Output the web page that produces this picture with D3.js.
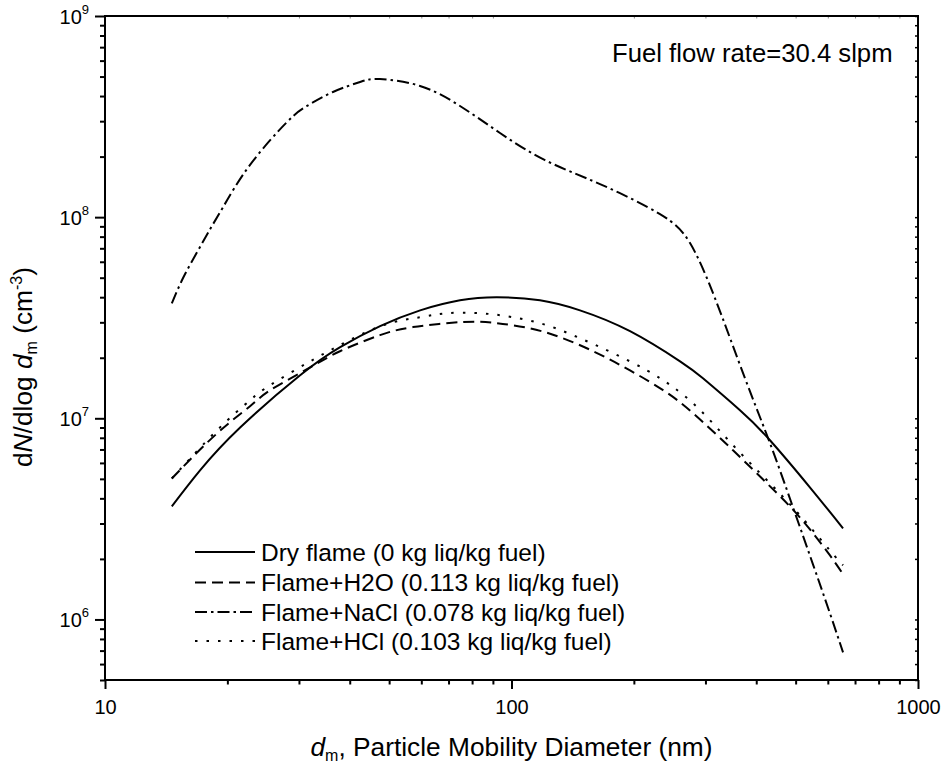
<!DOCTYPE html>
<html>
<head>
<meta charset="utf-8">
<script src="https://cdn.jsdelivr.net/npm/d3@7"></script>
<style>
  body { margin: 0; background: #fff; }
  text { font-family: "Liberation Sans", Arial, Helvetica, sans-serif; fill: #000; }
</style>
</head>
<body>
<svg id="chart" width="945" height="769"></svg>
<script>
// Particle size distributions, dN/dlog dm (cm^-3) vs mobility diameter (nm)
const dryDiam  = [14.6, 17.13, 21.5, 30.2, 37.8, 47.5, 59.6, 74.7, 92.1, 117.5, 147.4, 195.7, 259.8, 295.8, 364.8, 432.3, 542, 654];
const dryConc  = [3.65e6, 5.51e6, 9.0e6, 1.636e7, 2.25e7, 2.87e7, 3.44e7, 3.86e7, 4.00e7, 3.86e7, 3.44e7, 2.71e7, 1.92e7, 1.58e7, 1.096e7, 7.78e6, 4.54e6, 2.84e6];

const h2oDiam  = [14.6, 18.86, 22.74, 25.46, 31.4, 37.85, 47.48, 57.23, 75.98, 92.1, 111.1, 133.9, 162.3, 195.7, 236.0, 279.6, 350.7, 425.1, 512.6, 607.5, 654];
const h2oConc  = [5.02e6, 8.41e6, 1.148e7, 1.377e7, 1.754e7, 2.155e7, 2.59e7, 2.84e7, 3.01e7, 2.97e7, 2.80e7, 2.50e7, 2.11e7, 1.73e7, 1.38e7, 1.06e7, 6.93e6, 4.75e6, 3.21e6, 2.08e6, 1.675e6];

const naclDiam = [14.6, 15.56, 16.84, 18.13, 19.51, 22.74, 28.04, 31.4, 36.38, 42.41, 47.48, 59.55, 74.7, 93.69, 120.9, 165.1, 231.9, 274.9, 316.7, 375.3, 432.4, 492.6, 551.6, 607.5, 654];
const naclConc = [3.73e7, 4.98e7, 6.69e7, 8.71e7, 1.12e8, 1.82e8, 2.97e8, 3.57e8, 4.19e8, 4.70e8, 4.86e8, 4.49e8, 3.57e8, 2.62e8, 1.92e8, 1.46e8, 1.035e8, 7.43e7, 3.95e7, 1.58e7, 7.52e6, 3.61e6, 1.88e6, 1.07e6, 6.86e5];

const hclDiam  = [14.6, 18.86, 22.74, 25.46, 31.4, 37.85, 48.3, 59.55, 69.4, 83.66, 100.9, 122.3, 147.4, 177.7, 215.4, 249.7, 290.9, 350.7, 425.1, 512.6, 607.5, 654];
const hclConc  = [5.02e6, 8.71e6, 1.23e7, 1.46e7, 1.88e7, 2.31e7, 2.90e7, 3.18e7, 3.33e7, 3.33e7, 3.18e7, 2.90e7, 2.50e7, 2.11e7, 1.73e7, 1.43e7, 1.10e7, 7.35e6, 4.92e6, 3.29e6, 2.20e6, 1.86e6];

const seriesNames = [
  "Dry flame (0 kg liq/kg fuel)",
  "Flame+H2O (0.113 kg liq/kg fuel)",
  "Flame+NaCl (0.078 kg liq/kg fuel)",
  "Flame+HCl (0.103 kg liq/kg fuel)"
];
const seriesDash = [null, "11,6", "12,4,2.5,4", "2.5,9"];

const xMajor = [10, 100, 1000];
const xMinor = [20, 30, 40, 50, 60, 70, 80, 90, 200, 300, 400, 500, 600, 700, 800, 900];
const yMajorExp = [6, 7, 8, 9];
const yMinor = [5e5, 6e5, 7e5, 8e5, 9e5,
  2e6, 3e6, 4e6, 5e6, 6e6, 7e6, 8e6, 9e6,
  2e7, 3e7, 4e7, 5e7, 6e7, 7e7, 8e7, 9e7,
  2e8, 3e8, 4e8, 5e8, 6e8, 7e8, 8e8, 9e8];

const annotation = "Fuel flow rate=30.4 slpm";

const svg = d3.select("#chart");
const plot = { left: 105, right: 918, top: 16, bottom: 680 };

const x = d3.scaleLog().domain([10, 1000]).range([plot.left, plot.right]);
const y = d3.scaleLog().domain([5e5, 1e9]).range([plot.bottom, plot.top]);

const series = [
  d3.zip(dryDiam, dryConc),
  d3.zip(h2oDiam, h2oConc),
  d3.zip(naclDiam, naclConc),
  d3.zip(hclDiam, hclConc)
];

// Axes: outward ticks bottom/left, short inward ticks top/right
function styleAxis(g, width) {
  g.select(".domain").remove();
  g.selectAll(".tick line").attr("stroke", "#000").attr("stroke-width", width);
}

svg.append("g").attr("transform", `translate(0,${plot.bottom})`)
  .call(d3.axisBottom(x).tickValues(xMinor).tickSize(4.5).tickFormat(""))
  .call(g => styleAxis(g, 2));
svg.append("g").attr("transform", `translate(0,${plot.bottom})`)
  .call(d3.axisBottom(x).tickValues(xMajor).tickSize(9).tickPadding(11).tickFormat(d3.format("d")))
  .call(g => styleAxis(g, 2))
  .call(g => g.selectAll("text").attr("font-size", 20).attr("font-family", null));

svg.append("g").attr("transform", `translate(0,${plot.top})`)
  .call(d3.axisBottom(x).tickValues(xMinor).tickSize(2.5).tickFormat(""))
  .call(g => styleAxis(g, 1))
  .call(g => g.selectAll(".tick line").attr("stroke", "#888"));

svg.append("g").attr("transform", `translate(${plot.left},0)`)
  .call(d3.axisLeft(y).tickValues(yMinor).tickSize(5).tickFormat(""))
  .call(g => styleAxis(g, 2));
svg.append("g").attr("transform", `translate(${plot.left},0)`)
  .call(d3.axisLeft(y).tickValues(yMajorExp.map(e => Math.pow(10, e))).tickSize(10).tickFormat(""))
  .call(g => styleAxis(g, 2));

svg.append("g").attr("transform", `translate(${plot.right},0)`)
  .call(d3.axisLeft(y).tickValues(yMinor.concat(yMajorExp.map(e => Math.pow(10, e)))).tickSize(3).tickFormat(""))
  .call(g => styleAxis(g, 1.5));

// y tick labels as powers of ten
const yLab = svg.append("g");
yMajorExp.forEach(e => {
  const t = yLab.append("text")
    .attr("x", 89).attr("y", y(Math.pow(10, e)) + 7.5)
    .attr("text-anchor", "end").attr("font-size", 20);
  t.append("tspan").text("10");
  t.append("tspan").attr("font-size", 13).attr("dy", -10).text(String(e));
});

// frame
svg.append("rect")
  .attr("x", plot.left).attr("y", plot.top)
  .attr("width", plot.right - plot.left).attr("height", plot.bottom - plot.top)
  .attr("fill", "none").attr("stroke", "#000").attr("stroke-width", 2);

// curves
const line = d3.line()
  .x(d => x(d[0])).y(d => y(d[1]))
  .curve(d3.curveNatural);

svg.append("g").selectAll("path").data(series).join("path")
  .attr("d", line)
  .attr("fill", "none")
  .attr("stroke", "#000")
  .attr("stroke-width", 2)
  .attr("stroke-dasharray", (d, i) => seriesDash[i]);

// legend
const legend = svg.append("g");
const legendY = [552, 582.5, 612, 641];
seriesNames.forEach((name, i) => {
  legend.append("line")
    .attr("x1", 195).attr("x2", 255)
    .attr("y1", legendY[i]).attr("y2", legendY[i])
    .attr("stroke", "#000").attr("stroke-width", 2)
    .attr("stroke-dasharray", seriesDash[i]);
  legend.append("text")
    .attr("x", 261).attr("y", legendY[i]).attr("dy", "0.35em")
    .attr("font-size", 24.5).text(name);
});

// annotation
svg.append("text").attr("x", 612).attr("y", 62).attr("font-size", 25.7).text(annotation);

// x axis title
const xt = svg.append("text")
  .attr("x", (plot.left + plot.right) / 2).attr("y", 756)
  .attr("text-anchor", "middle").attr("font-size", 26.3);
xt.append("tspan").attr("font-style", "italic").text("d");
xt.append("tspan").attr("font-size", 16).attr("dy", 5).text("m");
xt.append("tspan").attr("dy", -5).text(", Particle Mobility Diameter (nm)");

// y axis title
const yt = svg.append("text")
  .attr("transform", `translate(32,${(plot.top + plot.bottom) / 2 + 19}) rotate(-90)`)
  .attr("text-anchor", "middle").attr("font-size", 26.3);
yt.append("tspan").text("d");
yt.append("tspan").attr("font-style", "italic").text("N");
yt.append("tspan").text("/dlog ");
yt.append("tspan").attr("font-style", "italic").text("d");
yt.append("tspan").attr("font-size", 16).attr("dy", 5).text("m");
yt.append("tspan").attr("dy", -5).text("  (cm");
yt.append("tspan").attr("font-size", 16).attr("dy", -10).text("-3");
yt.append("tspan").attr("dy", 10).text(")");
</script>
</body>
</html>
